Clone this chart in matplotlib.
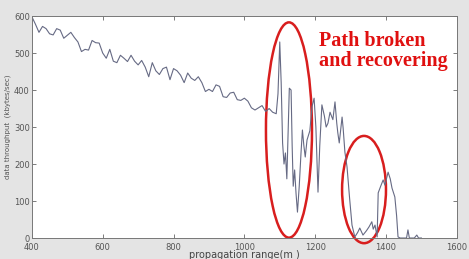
import matplotlib.pyplot as plt
from matplotlib.patches import Ellipse

# propagation range (m) and throughput (kbytes/sec)
range_m = [400, 410, 420, 430, 440, 450, 460, 470, 480, 490,
           500, 510, 520, 530, 540, 550, 560, 570, 580, 590,
           600, 610, 620, 630, 640, 650, 660, 670, 680, 690,
           700, 710, 720, 730, 740, 750, 760, 770, 780, 790,
           800, 810, 820, 830, 840, 850, 860, 870, 880, 890,
           900, 910, 920, 930, 940, 950, 960, 970, 980, 990,
           1000, 1010, 1020, 1030, 1040, 1050, 1060, 1070, 1080, 1090,
           1095, 1100, 1104, 1108, 1112, 1116, 1120, 1124, 1127, 1132,
           1135, 1138, 1142, 1146, 1150, 1155, 1160, 1164, 1168, 1172,
           1177, 1185, 1191, 1197, 1202, 1208, 1213, 1219, 1226, 1231,
           1236, 1242, 1250, 1256, 1261, 1264, 1268, 1276, 1279, 1284,
           1290, 1297, 1304, 1312, 1320, 1326, 1335, 1345, 1352, 1360,
           1364, 1369, 1375, 1378, 1385, 1392, 1397, 1406, 1412, 1417,
           1425, 1430, 1434, 1440, 1450, 1458, 1462, 1466, 1480, 1487,
           1492, 1500]
throughput = [598, 578, 556, 572, 566, 552, 549, 566, 562, 540,
              548, 556, 542, 530, 504, 510, 508, 534, 528, 527,
              500, 486, 510, 478, 474, 494, 486, 477, 494, 478,
              468, 480, 462, 436, 474, 452, 442, 458, 462, 428,
              458, 452, 440, 420, 446, 432, 426, 436, 420, 396,
              402, 396, 414, 410, 382, 380, 392, 394, 374, 372,
              378, 370, 352, 346, 352, 358, 342, 350, 340, 336,
              390, 530, 420, 257, 200, 230, 160, 300, 405, 400,
              250, 140, 184, 120, 70, 140, 230, 292, 250, 219,
              265, 290, 355, 378, 300, 124, 250, 360, 330, 300,
              310, 340, 320, 368, 310, 284, 257, 327, 297, 232,
              192, 110, 35, 3, 15, 27, 8, 20, 30, 44,
              24, 35, 3, 122, 140, 157, 143, 178, 160, 135,
              111, 60, 3, 0, 0, 0, 22, 0, 0, 8,
              0, 0]

x_ticks = [400, 600, 800, 1000, 1200, 1400, 1600]
y_ticks = [0, 100, 200, 300, 400, 500, 600]

fig = plt.figure(figsize=(4.69, 2.59), dpi=100, facecolor="#e4e4e4")
ax = fig.add_axes([0.068, 0.081, 0.906, 0.857])
ax.set_facecolor("white")

ax.plot(range_m, throughput, color="#666a84", lw=0.8)

ax.set_xlim(400, 1600)
ax.set_ylim(0, 600)
ax.set_xticks(x_ticks)
ax.set_yticks(y_ticks)
ax.tick_params(direction="in", length=3, width=0.6, colors="#666666",
               labelcolor="#555555", labelsize=6, top=True, right=True,
               pad=1.5)
ax.tick_params(axis="x", pad=3.5)
for s in ax.spines.values():
    s.set_color("#777777")
    s.set_linewidth(0.7)

ax.set_xlabel("propagation range(m )", fontsize=7, color="#444444", labelpad=-1)
ax.set_ylabel("data throughput  (kbytes/sec)", fontsize=5, color="#555555",
              labelpad=2)

# red ellipses marking the broken path
ax.add_patch(Ellipse((1126, 292), 130, 582, fill=False, ec="#d81e1e", lw=1.8,
                     clip_on=False))
ax.add_patch(Ellipse((1338, 131), 124, 290, fill=False, ec="#d81e1e", lw=1.8,
                     clip_on=False))

ax.text(1210, 560, "Path broken\nand recovering", color="#e01010",
        fontsize=14.5, fontweight="bold", family="Liberation Serif",
        ha="left", va="top", linespacing=1.0)

fig.savefig("out.png", dpi=100, facecolor=fig.get_facecolor())
